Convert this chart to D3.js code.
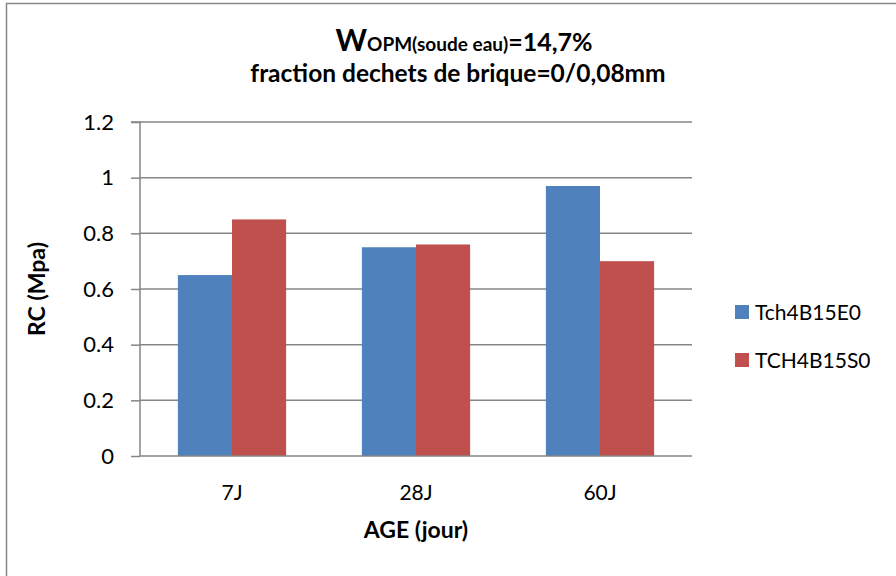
<!DOCTYPE html>
<html><head><meta charset="utf-8">
<script src="https://cdn.jsdelivr.net/npm/d3@7"></script>
<style>body{margin:0;background:#fff;} svg{display:block;}</style>
</head><body>
<script>
const categories = ["7J", "28J", "60J"];
const seriesNames = ["Tch4B15E0", "TCH4B15S0"];
const seriesE0 = [0.65, 0.75, 0.97];
const seriesS0 = [0.85, 0.76, 0.70];
const yTicks = [0, 0.2, 0.4, 0.6, 0.8, 1, 1.2];
const colors = ["#4F81BD", "#C0504D"];

(function () {
const W = 896, H = 576;
const font = "Lato, 'Open Sans', sans-serif";
const svg = d3.select("body").append("svg").attr("width", W).attr("height", H);
svg.append("rect").attr("x", 6.5).attr("y", 3.5).attr("width", W + 10).attr("height", H + 10)
  .attr("fill", "#fff").attr("stroke", "#868686").attr("stroke-width", 1.5);

const pL = 140, pR = 692, pT = 122, pB = 456;
const x = d3.scaleBand().domain(categories).range([pL, pR]);
const x1 = d3.scaleBand().domain(seriesNames).range([0, x.bandwidth()]).paddingInner(0).paddingOuter(0.7);
const y = d3.scaleLinear().domain([0, 1.2]).range([pB, pT]);

svg.append("g").selectAll("line").data(yTicks.filter(d => d > 0)).join("line")
  .attr("x1", pL).attr("x2", pR).attr("y1", d => y(d)).attr("y2", d => y(d))
  .attr("stroke", "#868686").attr("stroke-width", 1.5);

const data = categories.map((c, i) => ({c, vals: [seriesE0[i], seriesS0[i]]}));
const g = svg.append("g").selectAll("g").data(data).join("g")
  .attr("transform", d => `translate(${x(d.c)},0)`);
g.selectAll("rect").data(d => d.vals.map((v, j) => ({v, s: seriesNames[j], j}))).join("rect")
  .attr("x", d => x1(d.s)).attr("width", x1.bandwidth())
  .attr("y", d => y(d.v)).attr("height", d => y(0) - y(d.v))
  .attr("fill", d => colors[d.j]);

const yAxis = d3.axisLeft(y).tickValues(yTicks).tickSize(9).tickPadding(17)
  .tickFormat(d => d3.format("")(d));
const ya = svg.append("g").attr("transform", `translate(${pL},0)`).call(yAxis);
ya.select(".domain").attr("stroke", "#868686").attr("stroke-width", 1.5).attr("d", `M-9,${pT}H0V${pB}`);
ya.selectAll(".tick line").attr("stroke", "#868686").attr("stroke-width", 1.5);
ya.selectAll("text").attr("font-family", font).attr("font-size", 22).attr("fill", "#000");

const xAxis = d3.axisBottom(x).tickSize(0).tickPadding(29);
const xa = svg.append("g").attr("transform", `translate(0,${pB})`).call(xAxis);
xa.select(".domain").attr("stroke", "#868686").attr("stroke-width", 1.5).attr("d", `M${pL},0H${pR}`);
xa.selectAll("text").attr("font-family", font).attr("font-size", 21).attr("fill", "#000");

const t1 = svg.append("text").attr("x", 464).attr("y", 51).attr("text-anchor", "middle")
  .attr("font-family", font).attr("font-weight", "bold").attr("fill", "#000");
t1.append("tspan").attr("font-size", 30).text("W");
t1.append("tspan").attr("font-size", 19).text("OPM(soude eau)");
t1.append("tspan").attr("font-size", 25).text("=14,7%");
svg.append("text").attr("x", 458).attr("y", 82).attr("text-anchor", "middle")
  .attr("font-family", font).attr("font-weight", "bold").attr("font-size", 24.5).attr("fill", "#000")
  .text("fraction dechets de brique=0/0,08mm");

svg.append("text").attr("transform", "translate(45,289) rotate(-90)").attr("text-anchor", "middle")
  .attr("font-family", font).attr("font-weight", "bold").attr("font-size", 23).attr("fill", "#000")
  .text("RC (Mpa)");
svg.append("text").attr("x", 416).attr("y", 538).attr("text-anchor", "middle")
  .attr("font-family", font).attr("font-weight", "bold").attr("font-size", 23).attr("fill", "#000")
  .text("AGE (jour)");

const lg = svg.append("g").selectAll("g").data(seriesNames).join("g")
  .attr("transform", (d, i) => `translate(735,${305 + i * 48})`);
lg.append("rect").attr("width", 14).attr("height", 14).attr("fill", (d, i) => colors[i]);
lg.append("text").attr("x", 20).attr("y", 15).attr("font-family", font).attr("font-size", 21)
  .attr("fill", "#000").text(d => d);
})();
</script>
</body></html>
